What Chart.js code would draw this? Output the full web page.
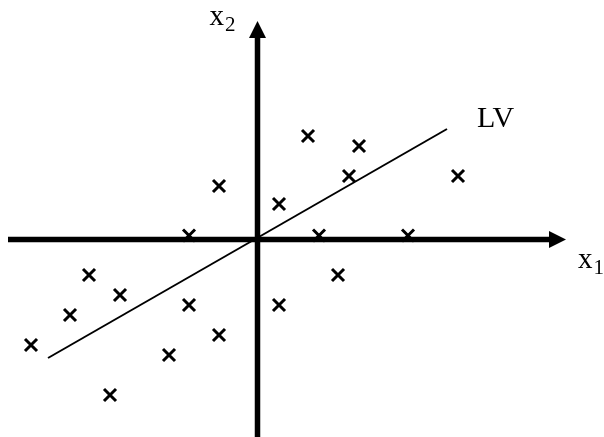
<!DOCTYPE html>
<html>
<head>
<meta charset="utf-8">
<script src="https://cdn.jsdelivr.net/npm/chart.js@4"></script>
<style>
  html, body { margin: 0; padding: 0; background: #fff; }
</style>
</head>
<body>
<canvas id="lvChart" width="604" height="437"></canvas>
<script>
// observations in the (x1, x2) plane
const obsX1 = [5.05, 10.15, 9.15, 20.05, -3.85, 2.15, 6.15, 15.05, -6.85, -16.85, 8.05, -13.75, -18.75, -6.85, 2.15, -22.65, -3.85, -8.85, -14.75];
const obsX2 = [10.35, 9.35, 6.35, 6.35, 5.35, 3.55, 0.4, 0.4, 0.4, -3.55, -3.55, -5.55, -7.55, -6.55, -6.55, -10.55, -9.55, -11.55, -15.55];

// latent variable direction (segment through the origin)
const lvX1 = [-20.95, 18.95];
const lvX2 = [-11.85, 11.05];

// coordinate axes: [start, arrow tip]
const axisX1 = [-24.95, 30.85];
const axisX2 = [-20.5, 21.85];

// visible window
const x1Range = [-25.75, 34.65];
const x2Range = [-19.75, 23.95];

const points = obsX1.map((v, i) => ({ x: v, y: obsX2[i] }));
const lvLine = lvX1.map((v, i) => ({ x: v, y: lvX2[i] }));

// draws the thick axes with arrow heads, then the axis / LV labels
const axesPlugin = {
    id: 'axesPlugin',
    beforeDatasetsDraw(chart) {
        const ctx = chart.ctx;
        const sx = chart.scales.x;
        const sy = chart.scales.y;
        const ox = sx.getPixelForValue(0);
        const oy = sy.getPixelForValue(0);
        const headLen = 17;
        const headHalf = 8.5;

        ctx.save();
        ctx.strokeStyle = '#000';
        ctx.fillStyle = '#000';
        ctx.lineWidth = 5.5;

        // horizontal axis
        const xStart = sx.getPixelForValue(axisX1[0]);
        const xTip = sx.getPixelForValue(axisX1[1]);
        ctx.beginPath();
        ctx.moveTo(xStart, oy);
        ctx.lineTo(xTip - headLen + 1, oy);
        ctx.stroke();
        ctx.beginPath();
        ctx.moveTo(xTip, oy);
        ctx.lineTo(xTip - headLen, oy - headHalf);
        ctx.lineTo(xTip - headLen, oy + headHalf);
        ctx.closePath();
        ctx.fill();

        // vertical axis
        const yStart = sy.getPixelForValue(axisX2[0]);
        const yTip = sy.getPixelForValue(axisX2[1]);
        ctx.beginPath();
        ctx.moveTo(ox, yStart);
        ctx.lineTo(ox, yTip + headLen - 1);
        ctx.stroke();
        ctx.beginPath();
        ctx.moveTo(ox, yTip);
        ctx.lineTo(ox - headHalf, yTip + headLen);
        ctx.lineTo(ox + headHalf, yTip + headLen);
        ctx.closePath();
        ctx.fill();
        ctx.restore();
    },
    afterDatasetsDraw(chart) {
        const ctx = chart.ctx;
        const sx = chart.scales.x;
        const sy = chart.scales.y;
        const ox = sx.getPixelForValue(0);
        const oy = sy.getPixelForValue(0);
        const serif = '"Liberation Serif", "Times New Roman", serif';

        ctx.save();
        ctx.fillStyle = '#000';
        ctx.textBaseline = 'alphabetic';
        ctx.textAlign = 'left';

        // label with subscript
        function subLabel(base, sub, x, y) {
            ctx.font = '29px ' + serif;
            ctx.fillText(base, x, y);
            const w = ctx.measureText(base).width;
            ctx.font = '21px ' + serif;
            ctx.fillText(sub, x + w + 1, y + 6);
        }

        subLabel('x', '2', ox - 48, sy.getPixelForValue(axisX2[1]) + 4);
        subLabel('x', '1', sx.getPixelForValue(axisX1[1]) + 12, oy + 28);

        // LV tag past the end of the line
        ctx.font = '30px ' + serif;
        const lvEnd = lvLine[lvLine.length - 1];
        ctx.fillText('LV', sx.getPixelForValue(lvEnd.x) + 30, sy.getPixelForValue(lvEnd.y) - 2);
        ctx.restore();
    }
};

new Chart(document.getElementById('lvChart'), {
    type: 'scatter',
    data: {
        datasets: [
            {
                label: 'LV',
                data: lvLine,
                showLine: true,
                borderColor: '#000',
                borderWidth: 2,
                pointRadius: 0,
                fill: false
            },
            {
                label: 'obs',
                data: points,
                pointStyle: 'crossRot',
                pointRadius: 8.5,
                pointBorderWidth: 3,
                borderColor: '#000',
                backgroundColor: '#000'
            }
        ]
    },
    options: {
        responsive: false,
        animation: false,
        layout: { padding: 0, autoPadding: false },
        scales: {
            x: { type: 'linear', display: false, min: x1Range[0], max: x1Range[1] },
            y: { type: 'linear', display: false, min: x2Range[0], max: x2Range[1] }
        },
        plugins: {
            legend: { display: false },
            tooltip: { enabled: false }
        }
    },
    plugins: [axesPlugin]
});
</script>
</body>
</html>
